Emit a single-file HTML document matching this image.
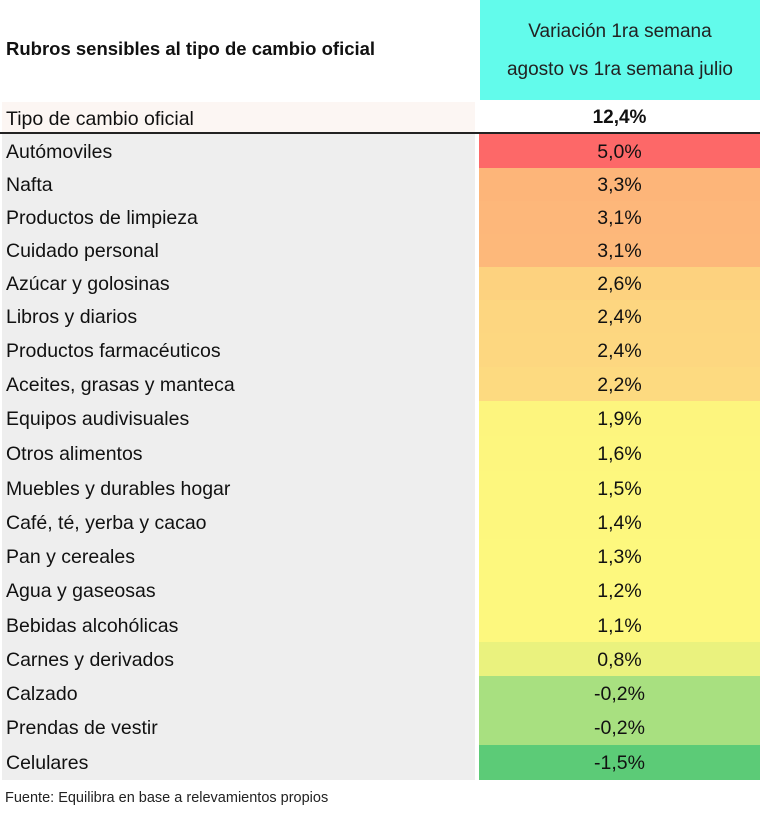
<!DOCTYPE html>
<html><head><meta charset="utf-8"><style>
body{margin:0;width:760px;height:815px;background:#fff;position:relative;overflow:hidden;font-family:"Liberation Sans",sans-serif;color:#111}
.a{position:absolute}
.l{position:absolute;left:2px;width:473px;background:#eeeeee;font-size:19.5px;padding-left:4px;padding-top:3px;box-sizing:border-box;display:flex;align-items:center}
.r{position:absolute;left:479px;width:281px;font-size:19.5px;padding-top:3px;box-sizing:border-box;display:flex;align-items:center;justify-content:center}
</style></head><body>
<div class="a" style="left:6px;top:38px;font-size:18.5px;font-weight:bold">Rubros sensibles al tipo de cambio oficial</div>
<div class="a" style="left:480px;top:0;width:280px;height:100px;background:#62fbeb;text-align:center;font-size:19px;line-height:38px;padding-top:13px;box-sizing:border-box;color:#222">Variación 1ra semana<br>agosto vs 1ra semana julio</div>
<div class="l" style="top:102px;height:31px;background:#fcf6f3">Tipo de cambio oficial</div>
<div class="r" style="top:102px;height:31px;font-weight:bold;font-size:19px;padding-top:0">12,4%</div>
<div class="a" style="left:0;top:132px;width:760px;height:2px;background:#222"></div>
<div id="rows"></div>
<div class="a" style="left:5px;top:790px;font-size:14.5px;color:#222">Fuente: Equilibra en base a relevamientos propios</div>
<script>
var d=[["Autómoviles","5,0%","#fd6868"],["Nafta","3,3%","#fdb579"],["Productos de limpieza","3,1%","#fdb77a"],["Cuidado personal","3,1%","#fdb87a"],["Azúcar y golosinas","2,6%","#fdd27f"],["Libros y diarios","2,4%","#fdd680"],["Productos farmacéuticos","2,4%","#fdd780"],["Aceites, grasas y manteca","2,2%","#fdda80"],["Equipos audivisuales","1,9%","#fdf57e"],["Otros alimentos","1,6%","#fdf67e"],["Muebles y durables hogar","1,5%","#fdf77e"],["Café, té, yerba y cacao","1,4%","#fdf77e"],["Pan y cereales","1,3%","#fdf87e"],["Agua y gaseosas","1,2%","#fdf87e"],["Bebidas alcohólicas","1,1%","#fdf87e"],["Carnes y derivados","0,8%","#eaf27e"],["Calzado","-0,2%","#a8e080"],["Prendas de vestir","-0,2%","#a8e080"],["Celulares","-1,5%","#5ccb77"]];
var b=[134,167.5,200.5,233.5,266.5,299.5,333,367,401,435.5,470.5,505,539,573,607.5,642,676,710,744.5,780];
var h="";
for(var i=0;i<d.length;i++){var t=b[i],hh=b[i+1]-b[i];
h+='<div class="l" style="top:'+t+'px;height:'+hh+'px">'+d[i][0]+'</div>';
h+='<div class="r" style="top:'+t+'px;height:'+hh+'px;background:'+d[i][2]+'">'+d[i][1]+'</div>';}
document.getElementById("rows").innerHTML=h;
</script>
</body></html>
